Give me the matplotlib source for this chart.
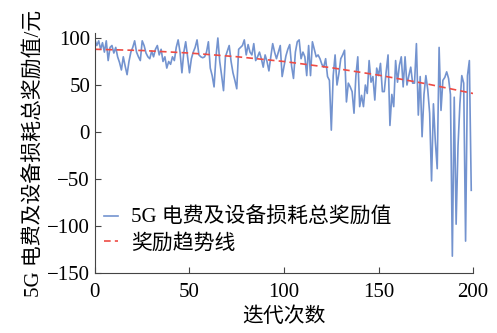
import numpy as np
import matplotlib
matplotlib.use('Agg')
import matplotlib.pyplot as plt

plt.rcParams['font.family'] = ['Liberation Serif', 'Noto Sans CJK SC']
plt.rcParams['axes.unicode_minus'] = True
size = 15

# reward per iteration
reward = [
    98, 92, 97, 88, 95, 85, 97, 76, 90, 92,
    84, 90, 80, 74, 66, 80, 70, 61, 75, 85,
    90, 97, 85, 80, 76, 97, 92, 84, 80, 78,
    86, 80, 88, 92, 82, 88, 75, 80, 68, 75,
    72, 80, 76, 90, 98, 85, 63, 85, 96, 80,
    63, 78, 85, 90, 98, 82, 80, 79, 80, 85,
    96, 68, 60, 48, 80, 100, 75, 60, 44, 80,
    86, 92, 75, 63, 55, 46, 88, 90, 92, 98,
    82, 93, 85, 82, 94, 76, 80, 85, 78, 69,
    82, 75, 65, 80, 94, 85, 78, 85, 92, 59,
    70, 81, 88, 93, 70, 57, 85, 96, 98, 78,
    85, 80, 60, 92, 60, 96, 88, 80, 82, 78,
    72, 69, 78, 59, 55, 2, 60, 82, 50, 62,
    78, 82, 87, 32, 52, 48, 43, 20, 60, 80,
    27, 39, 27, 50, 41, 76, 53, 59, 34, 68,
    60, 73, 43, 43, 64, 82, 7, 40, 27, 76,
    53, 71, 80, 48, 80, 50, 60, 69, 52, 52,
    94, 18, 59, -5, 40, 60, 45, 20, -52, 30,
    -10, -39, 90, 23, 55, 58, 64, 57, 40, -132,
    37, -98, -15, 30, 60, 52, -116, 60, 76, -62,
]
iters = np.arange(len(reward))

# trend line samples
trend_x = [0, 25, 50, 75, 100, 125, 150, 175, 200]
trend_y = [88, 86.7, 84.0, 80.1, 75.0, 68.4, 60.5, 51.4, 41.0]

fig = plt.figure(figsize=(4.97, 3.33), dpi=100)
ax = fig.add_axes([0.191, 0.180, 0.761, 0.720])
ax.plot(iters, reward, color='#7393cf', lw=1.2, label='5G 电费及设备损耗总奖励值')
ax.plot(trend_x, trend_y, color='#ee4b44', lw=1.2, ls=(0, (4, 2.5)), label='奖励趋势线')

ax.set_xlim(0, 200)
ax.set_ylim(-150, 105)
ax.set_xticks([0, 50, 100, 150, 200])
ax.set_yticks([-150, -100, -50, 0, 50, 100])
ax.spines['top'].set_visible(False)
ax.spines['right'].set_visible(False)
for s in ['left', 'bottom']:
    ax.spines[s].set_color('#444444')
ax.tick_params(direction='in', labelsize=size, length=4, color='#444444')
ax.tick_params(axis='x', pad=7)
ax.set_xlabel('迭代次数', fontsize=size, labelpad=4)
ax.set_ylabel('5G 电费及设备损耗总奖励值/元', fontsize=size, labelpad=2)

ax.legend(loc='lower left', bbox_to_anchor=(-0.01, 0.03), frameon=False,
          fontsize=size, handlelength=0.7, handletextpad=0.6,
          labelspacing=0.25, borderaxespad=0.2)

plt.savefig('out.png', dpi=100)
